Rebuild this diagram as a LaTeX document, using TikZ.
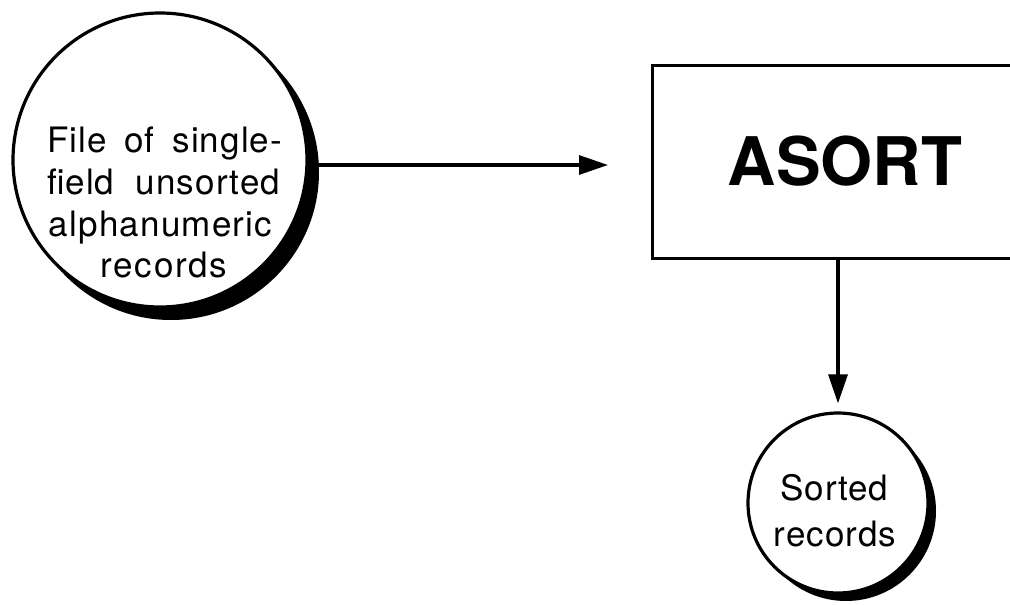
\documentclass[tikz,border=0pt]{standalone}
\usepackage{fontspec}
\setmainfont{TeX Gyre Heros}
\usetikzlibrary{arrows.meta}
\newcommand{\spaced}[1]{\addfontfeature{LetterSpace=#1}}
\begin{document}
\begin{tikzpicture}[x=1pt,y=-1pt,
  disk/.style={circle,draw=black,fill=white,line width=3.2pt,inner sep=0pt},
  shade/.style={fill=black},
  flow/.style={line width=3.2pt,-{Triangle[length=29pt,width=19pt]}},
  procbox/.style={rectangle,draw=black,line width=3pt,fill=white,
    minimum width=386pt,minimum height=193pt,inner sep=0pt},
  bigline/.style={anchor=base,inner sep=0pt,font=\fontsize{35}{42}\selectfont},
  smallline/.style={anchor=base,inner sep=0pt,font=\fontsize{35}{42}\selectfont},
]
\useasboundingbox (0,0) rectangle (1010,605);
\clip (0,0) rectangle (1010,605);

% input file
\fill[shade] (171,172) circle[radius=148pt];
\node[disk,minimum size=294pt] (big) at (160,160) {};
\node[bigline] (bigA) at (164.5,152) {\spaced{3}\makebox[235pt][s]{File of single-}};
\node[bigline] (bigB) at (163.5,194) {\spaced{3}\makebox[233pt][s]{field unsorted}};
\node[bigline] (bigC) at (160.5,236) {\spaced{3.5}alphanumeric};
\node[bigline] (bigD) at (164,277) {\spaced{5}records};

% sort process
\node[procbox,font=\bfseries\fontsize{67}{67}\selectfont] (box) at (845,161.5) {ASORT};

% output file
\fill[shade] (846,511) circle[radius=90pt];
\node[disk,minimum size=180pt] (small) at (838,503) {};
\node[smallline] (smallA) at (834.5,500) {\spaced{2}Sorted};
\node[smallline] (smallB) at (835,546) {\spaced{3}records};

% connectors
\coordinate (tipA) at (608,165);
\draw[flow] (big.east |- tipA) -- (tipA);
\coordinate (tipB) at ([yshift=8pt]small.north);
\draw[flow] (box.south -| small.north) -- (tipB);
\end{tikzpicture}
\end{document}
